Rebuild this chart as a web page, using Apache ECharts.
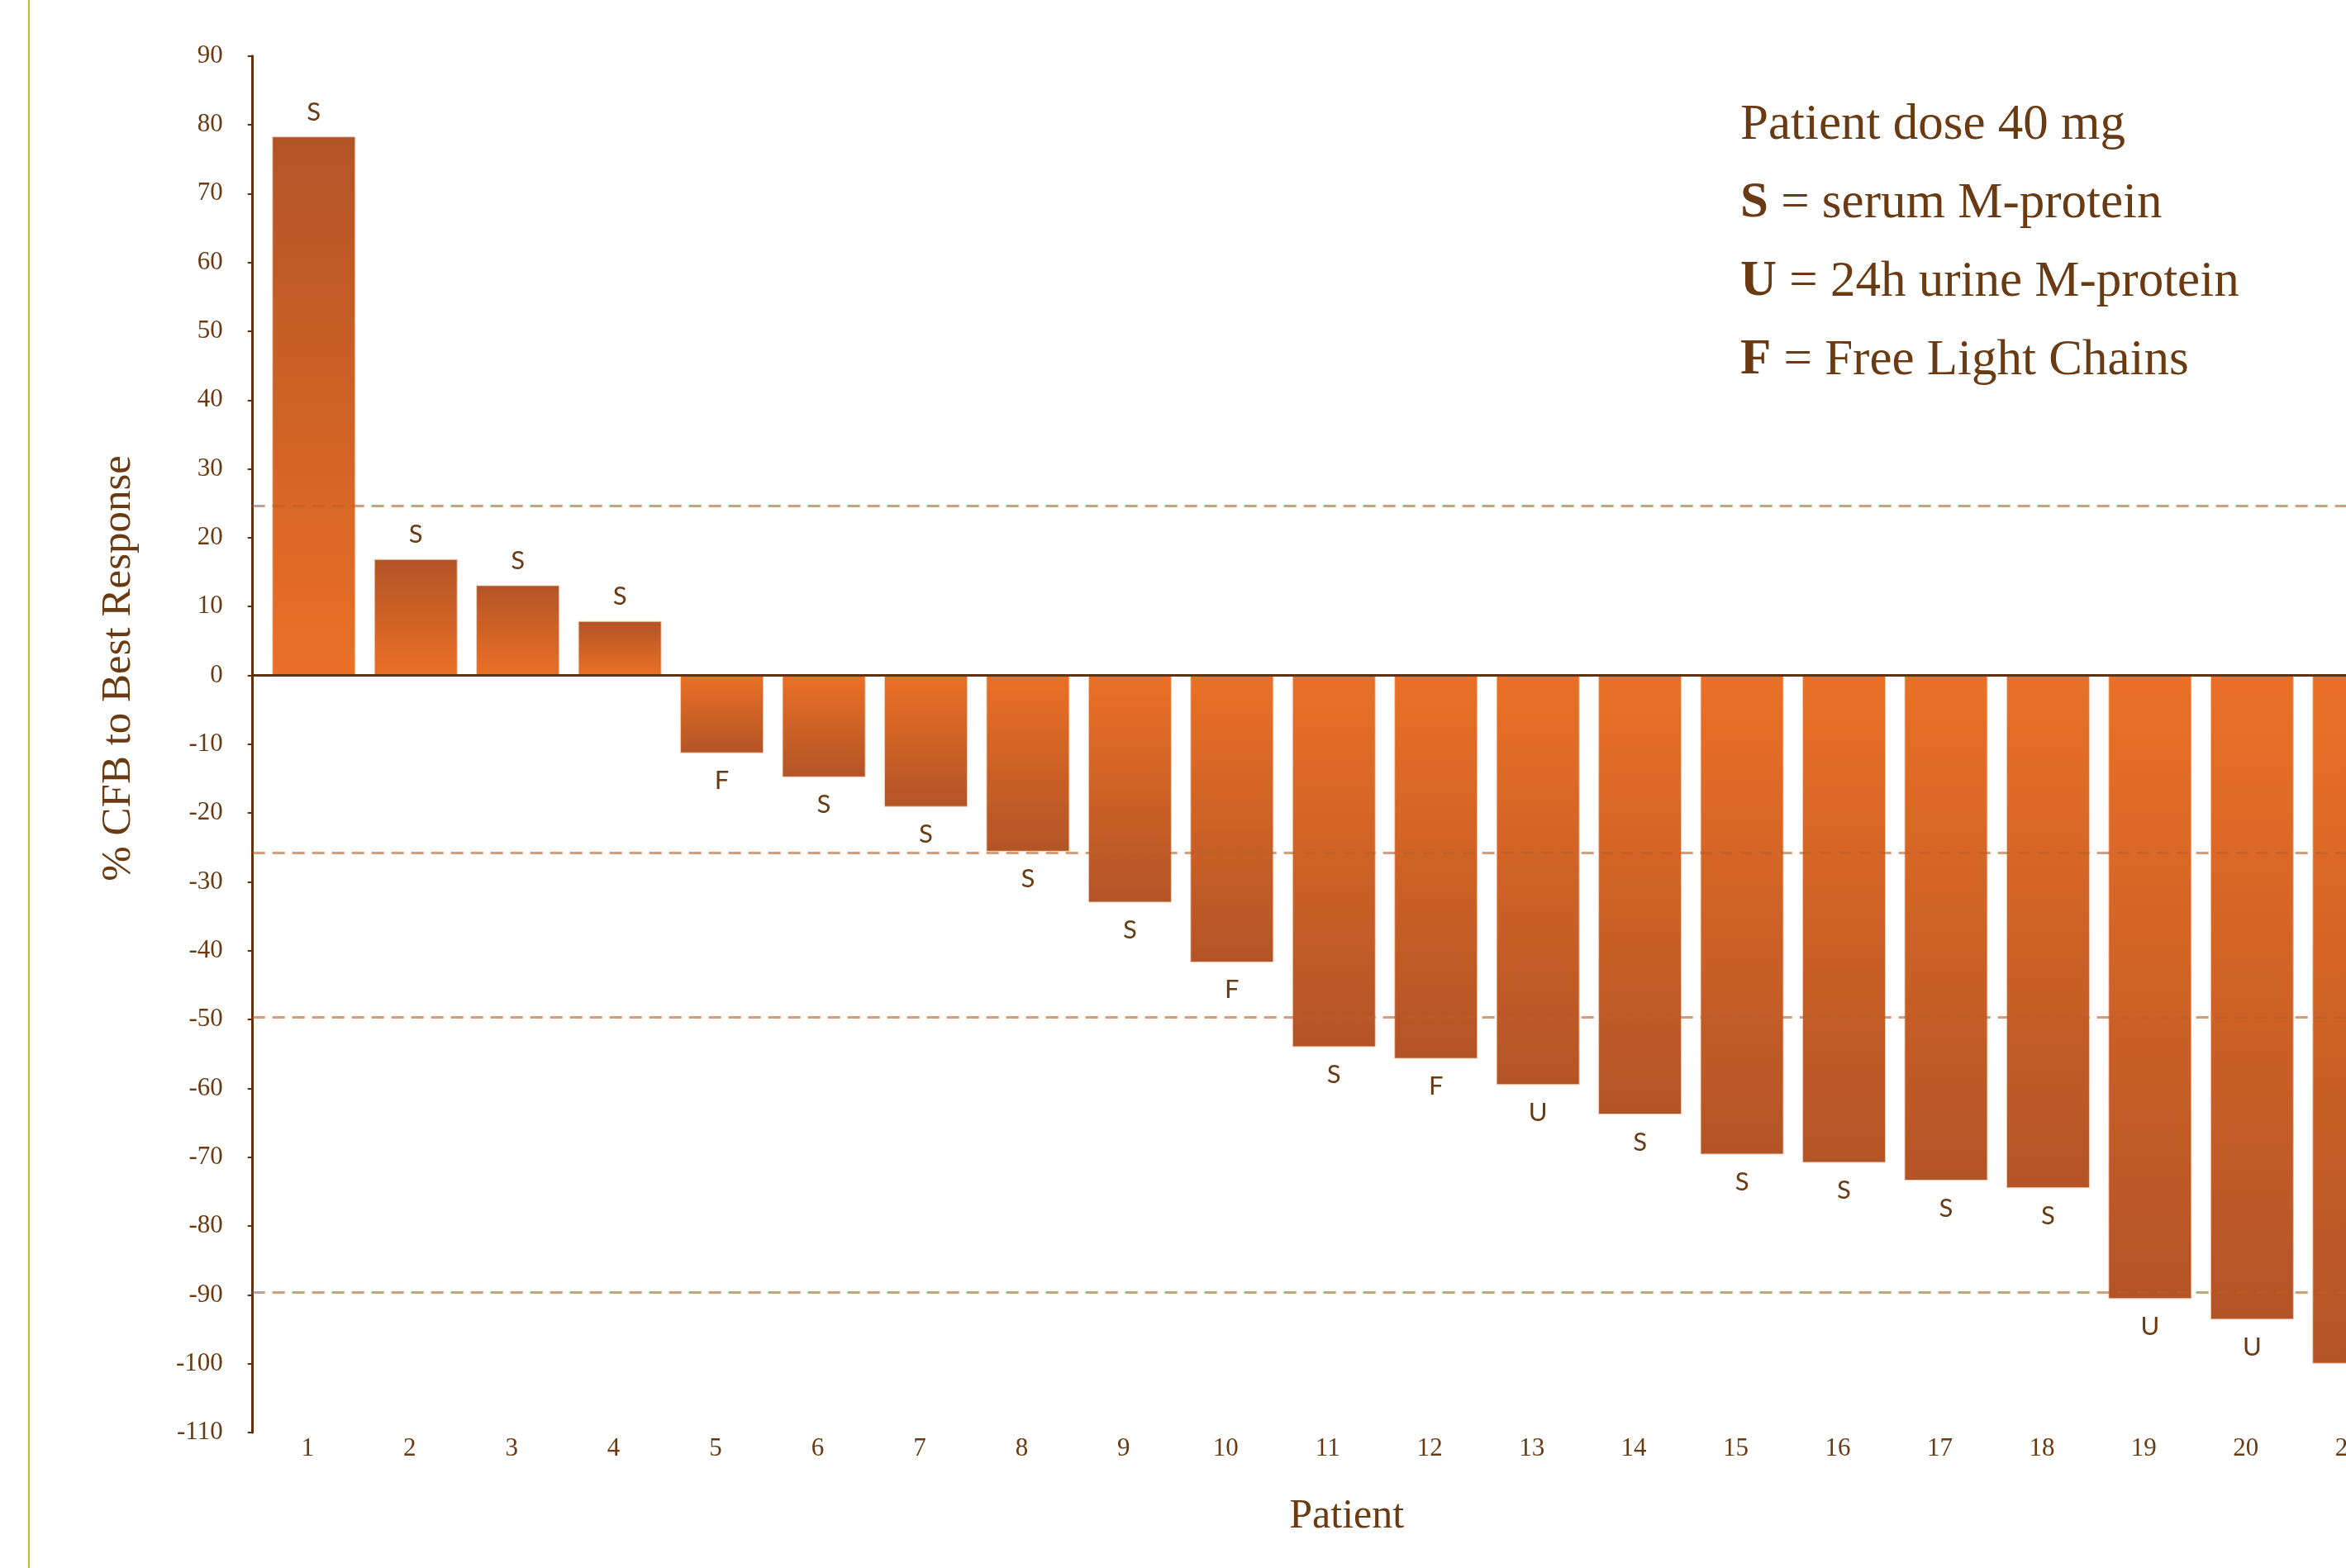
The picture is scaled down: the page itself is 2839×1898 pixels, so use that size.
<!DOCTYPE html>
<html>
<head>
<meta charset="utf-8">
<title>% CFB to Best Response by Patient</title>
<script src="https://cdn.jsdelivr.net/npm/echarts@6/dist/echarts.min.js"></script>
<style>
  html, body { margin: 0; padding: 0; background: #ffffff; }
  #chart { width: 2839px; height: 1898px; }
</style>
</head>
<body>
<div id="chart"></div>
<script>
// Patients in order of best response
const patients = [1, 2, 3, 4, 5, 6, 7, 8, 9, 10, 11, 12, 13, 14, 15, 16, 17, 18, 19, 20, 21];

// Percent change from baseline at best response
const pctChange = [78.3, 16.9, 13.1, 7.9, -11.3, -14.8, -19.1, -25.6, -33.0, -41.7,
                   -54.0, -55.7, -59.5, -63.8, -69.6, -70.8, -73.4, -74.5, -90.6, -93.6, -100.0];

// Measurement used for each patient (S = serum, U = urine, F = free light chains)
const responseType = ['S', 'S', 'S', 'S', 'F', 'S', 'S', 'S', 'S', 'F',
                      'S', 'F', 'U', 'S', 'S', 'S', 'S', 'S', 'U', 'U', ''];

// Response threshold reference lines
const thresholds = [24.6, -25.8, -49.7, -89.6];

// Value axis range
const yMin = -110;
const yMax = 90;
const yStep = 10;

// Key text in the upper right
const keyLines = [
  'Patient dose 40 mg',
  '{b|S} = serum M-protein',
  '{b|U} = 24h urine M-protein',
  '{b|F} = Free Light Chains'
];

const BROWN = '#6a3a12';
const AXIS_BROWN = '#5e3210';
const SERIF = '"Liberation Serif", "Times New Roman", serif';
const SANS = 'Lato, "Open Sans", sans-serif';

function barGradient(positive) {
  const dark = '#b35426';
  const bright = '#ea7026';
  return new echarts.graphic.LinearGradient(0, 0, 0, 1, positive
    ? [{ offset: 0, color: dark }, { offset: 1, color: bright }]
    : [{ offset: 0, color: bright }, { offset: 1, color: dark }]);
}

const barData = patients.map((p, i) => {
  const v = pctChange[i];
  const up = v >= 0;
  return {
    value: [p, v],
    itemStyle: { color: barGradient(up) },
    label: { position: up ? 'top' : 'bottom', distance: up ? 14 : 18 }
  };
});

// The patient axis runs past the right edge of the page
const xMin = 0.4;
const xMax = 21.85;

const chart = echarts.init(document.getElementById('chart'), null, { renderer: 'canvas' });

chart.setOption({
  animation: false,
  backgroundColor: '#ffffff',
  title: {
    text: keyLines.join('\n'),
    left: 2101,
    top: 99,
    textStyle: {
      fontFamily: SERIF,
      fontSize: 61,
      fontWeight: 'normal',
      color: BROWN,
      lineHeight: 95,
      rich: {
        b: { fontFamily: SERIF, fontSize: 61, fontWeight: 'bold', color: BROWN, lineHeight: 95 }
      }
    }
  },
  graphic: [{
    type: 'rect',
    left: 34,
    top: 0,
    shape: { width: 2, height: 1898 },
    style: { fill: '#b8c032' },
    silent: true
  }],
  grid: {
    left: 305.7,
    top: 67.7,
    height: 1666.3,
    width: 2648,
    outerBoundsMode: 'none',
    containLabel: false
  },
  xAxis: [{
    type: 'value',
    min: xMin,
    max: xMax,
    z: 5,
    axisLine: { show: true, onZero: true, lineStyle: { color: AXIS_BROWN, width: 3 } },
    axisTick: { show: false },
    axisLabel: { show: false },
    splitLine: { show: false }
  }, {
    type: 'value',
    min: xMin,
    max: xMax,
    position: 'bottom',
    axisLine: { show: false, onZero: false },
    axisTick: { show: false },
    splitLine: { show: false },
    axisLabel: {
      customValues: patients,
      formatter: v => String(v),
      fontFamily: SERIF,
      fontSize: 31,
      color: BROWN,
      margin: 4,
      padding: [0, 15, 0, 0]
    },
    name: 'Patient',
    nameLocation: 'middle',
    nameGap: 77,
    nameTextStyle: { fontFamily: SERIF, fontSize: 50, color: BROWN }
  }],
  yAxis: {
    type: 'value',
    min: yMin,
    max: yMax,
    interval: yStep,
    axisLine: { show: true, onZero: false, lineStyle: { color: AXIS_BROWN, width: 3 } },
    axisTick: { show: true, inside: false, length: 6, lineStyle: { color: AXIS_BROWN, width: 2 } },
    axisLabel: {
      margin: 36,
      fontFamily: SERIF,
      fontSize: 31,
      color: BROWN,
      padding: [0, 0, 10, 0]
    },
    splitLine: { show: false },
    name: '% CFB to Best Response',
    nameLocation: 'middle',
    nameGap: 137,
    nameRotate: 90,
    nameTextStyle: { fontFamily: SERIF, fontSize: 51, color: BROWN, padding: [0, 0, 0, 184] }
  },
  series: [{
    type: 'bar',
    xAxisIndex: 0,
    yAxisIndex: 0,
    barWidth: 101,
    data: barData,
    itemStyle: { borderColor: 'rgba(246,206,182,0.9)', borderWidth: 1 },
    label: {
      show: true,
      formatter: p => responseType[p.dataIndex],
      fontFamily: SANS,
      fontSize: 31,
      color: BROWN
    },
    markLine: {
      silent: true,
      symbol: ['none', 'none'],
      label: { show: false },
      lineStyle: { type: [15, 9], color: 'rgba(188,96,40,0.62)', width: 3 },
      data: thresholds.map(v => ({ yAxis: v }))
    }
  }]
});
</script>
</body>
</html>
